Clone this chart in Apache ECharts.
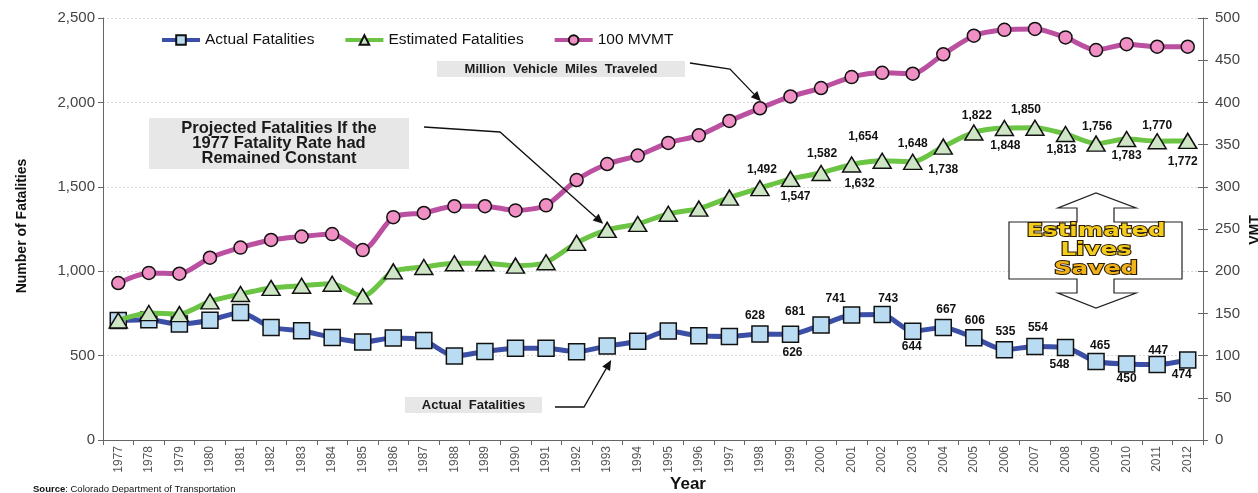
<!DOCTYPE html>
<html>
<head>
<meta charset="utf-8">
<title>Colorado Traffic Fatalities vs. Vehicle Miles Traveled</title>
<script src="https://cdn.jsdelivr.net/npm/echarts@6/dist/echarts.min.js"></script>
<style>
  html, body { margin: 0; padding: 0; background: #fff; }
  #chart { width: 1258px; height: 493px; }
</style>
</head>
<body>
<div id="chart"></div>
<script>
// Years on the category axis
const years = ['1977','1978','1979','1980','1981','1982','1983','1984','1985','1986','1987','1988',
  '1989','1990','1991','1992','1993','1994','1995','1996','1997','1998','1999','2000',
  '2001','2002','2003','2004','2005','2006','2007','2008','2009','2010','2011','2012'];

// Reported traffic fatalities
const actualFatalities = [708,712,687,709,756,667,647,607,580,604,590,
  497,524,544,544,523,557,585,645,617,613,
  628,626,681,741,743,644,667,606,535,554,548,465,450,447,474];

// Fatalities projected at the 1977 rate per 100 million vehicle miles
const estimatedFatalities = [708,752,746,821,865,901,914,926,851,999,1025,1047,1047,1033,1053,
  1168,1245,1280,1340,1371,1436,
  1492,1547,1582,1632,1654,1648,1738,1822,1848,1850,1813,1756,1783,1770,1772];

// Vehicle miles traveled, in units of 100 million (right axis)
const mvmt = [186,198,197,216,228,237,241,244,225,264,269,277,277,272,278,
  308,327,337,352,361,378,
  393,407,417,430,435,434,457,479,486,487,477,462,469,466,466];

const leftTicks = [0, 500, 1000, 1500, 2000, 2500];
const rightTicks = [0, 50, 100, 150, 200, 250, 300, 350, 400, 450, 500];

// Where the value labels sit relative to each labelled point (px)
const actualLabelOffsets = {
  '1998':[-5,-18],'1999':[2,18],'2000':[-26,-13],'2001':[-16,-16],'2002':[6,-16],
  '2003':[-1,15],'2004':[3,-18],'2005':[1,-17],'2006':[1,-18],'2007':[3,-19],
  '2008':[-6,17],'2009':[4,-16],'2010':[0,15],'2011':[1,-14],'2012':[-6,15]
};
const estimatedLabelOffsets = {
  '1998':[2,-18],'1999':[5,18],'2000':[1,-19],'2001':[8,19],'2002':[-19,-24],
  '2003':[0,-18],'2004':[0,23],'2005':[3,-17],'2006':[1,18],'2007':[-9,-18],
  '2008':[-4,16],'2009':[1,-17],'2010':[0,17],'2011':[0,-16],'2012':[-5,21]
};

const FONT = '"Liberation Sans", Arial, sans-serif';
const fmt = v => Number(v).toLocaleString('en-US');

function withLabels(values, offsets) {
  return values.map((v, i) => {
    const off = offsets[years[i]];
    if (!off) return { value: v, label: { show: false } };
    return { value: v, label: { show: true, position: 'inside', offset: off } };
  });
}

const valueLabel = {
  formatter: p => fmt(p.value),
  fontFamily: FONT, fontSize: 12, fontWeight: 'bold', color: '#111'
};

const chart = echarts.init(document.getElementById('chart'), null, { renderer: 'canvas' });

const option = {
  animation: false,
  backgroundColor: '#fff',
  textStyle: { fontFamily: FONT },
  grid: { left: 103, right: 55, top: 18, bottom: 53, containLabel: false },
  legend: {
    left: 155, top: 27,
    itemWidth: 38, itemHeight: 12, itemGap: 29,
    lineStyle: { width: 4 },
    textStyle: { fontFamily: FONT, fontSize: 15.5, color: '#111' },
    data: ['Actual Fatalities', 'Estimated Fatalities', '100 MVMT']
  },
  xAxis: {
    type: 'category',
    data: years,
    boundaryGap: true,
    axisLine: { lineStyle: { color: '#666', width: 1 } },
    axisTick: { show: true, interval: 0, length: 5, lineStyle: { color: '#666' } },
    axisLabel: { interval: 0, rotate: 90, fontSize: 12, color: '#555', margin: 6, fontFamily: FONT }
  },
  yAxis: [
    {
      type: 'value', position: 'left',
      min: leftTicks[0], max: leftTicks[leftTicks.length - 1], interval: leftTicks[1] - leftTicks[0],
      axisLine: { show: true, lineStyle: { color: '#666' } },
      axisTick: { show: true, length: 5, lineStyle: { color: '#666' } },
      axisLabel: { formatter: v => fmt(v), fontSize: 15, color: '#444', margin: 8, fontFamily: FONT },
      splitLine: { show: true, lineStyle: { color: '#d9d9d9', type: [2, 2], width: 1 } }
    },
    {
      type: 'value', position: 'right',
      min: rightTicks[0], max: rightTicks[rightTicks.length - 1], interval: rightTicks[1] - rightTicks[0],
      axisLine: { show: true, lineStyle: { color: '#666' } },
      axisTick: { show: true, length: 5, lineStyle: { color: '#666' } },
      axisLabel: { fontSize: 15, color: '#444', margin: 12, fontFamily: FONT },
      splitLine: { show: false }
    },
    {
      // inner half of the crossing tick marks on the right axis
      type: 'value', position: 'right',
      min: rightTicks[0], max: rightTicks[rightTicks.length - 1], interval: rightTicks[1] - rightTicks[0],
      axisLine: { show: false },
      axisTick: { show: true, inside: true, length: 5, lineStyle: { color: '#666' } },
      axisLabel: { show: false },
      splitLine: { show: false }
    }
  ],
  series: [
    {
      name: 'Actual Fatalities', type: 'line', yAxisIndex: 0,
      data: withLabels(actualFatalities, actualLabelOffsets),
      smooth: 0.25,
      symbol: 'rect', symbolSize: 16,
      lineStyle: { color: '#3c4fa6', width: 5 },
      itemStyle: { color: '#b9dcf2', borderColor: '#111', borderWidth: 1.5 },
      label: valueLabel,
      z: 3
    },
    {
      name: 'Estimated Fatalities', type: 'line', yAxisIndex: 0,
      data: withLabels(estimatedFatalities, estimatedLabelOffsets),
      smooth: 0.25,
      symbol: 'triangle', symbolSize: [18, 15],
      lineStyle: { color: '#6cc444', width: 5 },
      itemStyle: { color: '#cfe6c6', borderColor: '#111', borderWidth: 1.5 },
      label: valueLabel,
      z: 4
    },
    {
      name: '100 MVMT', type: 'line', yAxisIndex: 1,
      data: mvmt,
      smooth: 0.25,
      symbol: 'circle', symbolSize: 13,
      lineStyle: { color: '#bb4fa0', width: 5 },
      itemStyle: { color: '#f08fc3', borderColor: '#111', borderWidth: 1.5 },
      label: { show: false },
      z: 5
    }
  ]
};

chart.setOption(option);

// ---- annotations -------------------------------------------------------
function arrowElems(points) {
  const n = points.length;
  const tip = points[n - 1], prev = points[n - 2];
  const dx = tip[0] - prev[0], dy = tip[1] - prev[1];
  const len = Math.sqrt(dx * dx + dy * dy);
  const ux = dx / len, uy = dy / len;
  const hl = 10, hw = 4.5;
  const bx = tip[0] - ux * hl, by = tip[1] - uy * hl;
  const shaft = points.slice(0, n - 1).concat([[bx, by]]);
  return [
    { type: 'polyline', shape: { points: shaft }, style: { stroke: '#111', lineWidth: 1.3, fill: null }, z: 20 },
    { type: 'polygon', shape: { points: [tip, [bx - uy * hw, by + ux * hw], [bx + uy * hw, by - ux * hw]] },
      style: { fill: '#111' }, z: 20 }
  ];
}

function calloutBox(x, y, w, h, text, fontSize, lineHeight) {
  return [
    { type: 'rect', shape: { x: x, y: y, width: w, height: h }, style: { fill: '#e7e7e7' }, z: 15 },
    { type: 'text', x: x + w / 2, y: y + h / 2, z: 16,
      style: { text: text, fill: '#1a1a1a', font: 'bold ' + fontSize + 'px ' + FONT,
               align: 'center', verticalAlign: 'middle', lineHeight: lineHeight } }
  ];
}

const px = (seriesIndex, yearIdx, value) => chart.convertToPixel({ seriesIndex: seriesIndex }, [yearIdx, value]);
const idx = y => years.indexOf(y);

const mvmtPt = px(2, idx('1998'), mvmt[idx('1998')]);
const estPt = px(1, idx('1993'), estimatedFatalities[idx('1993')]);
const actPt = px(0, idx('1993'), actualFatalities[idx('1993')]);

const gfx = [];
gfx.push(...calloutBox(437, 61, 248, 16, 'Million  Vehicle  Miles  Traveled', 13, 14));
gfx.push(...arrowElems([[690, 63], [730, 69], [mvmtPt[0] + 1, mvmtPt[1] - 7]]));

gfx.push(...calloutBox(149, 118, 260, 51, 'Projected Fatalities If the\n1977 Fatality Rate had\nRemained Constant', 16.5, 15));
gfx.push(...arrowElems([[424, 127], [500, 132], [estPt[0] - 4, estPt[1] - 6]]));

gfx.push(...calloutBox(405, 397, 137, 16, 'Actual  Fatalities', 13, 14));
gfx.push(...arrowElems([[555, 407], [584, 407], [actPt[0] + 4, actPt[1] + 14]]));

// double-headed "Estimated Lives Saved" marker
gfx.push({
  type: 'polygon', z: 15,
  shape: { points: [
    [1009, 222], [1077, 222], [1077, 208], [1058, 208], [1096, 193], [1136, 208], [1114, 208], [1114, 222],
    [1182, 222], [1182, 279], [1114, 279], [1114, 293], [1136, 293], [1096, 308], [1058, 293], [1077, 293],
    [1077, 279], [1009, 279]
  ] },
  style: { fill: '#fff', stroke: '#222', lineWidth: 1.2 }
});
const savedText = ['Estimated', 'Lives', 'Saved'];
gfx.push({
  type: 'group', x: 1096, y: 250, scaleX: 1.36, scaleY: 1, z: 17,
  children: savedText.map((t, i) => ({
    type: 'text', x: 0, y: (i - 1) * 19, z: 17,
    style: {
      text: t, font: 'bold 18px "DejaVu Sans", sans-serif',
      fill: i === 2 ? '#f0b21a' : '#f4cc1c', stroke: '#2a1a00', lineWidth: 1.8,
      align: 'center', verticalAlign: 'middle',
      shadowColor: 'rgba(0,0,0,0.6)', shadowOffsetX: 2, shadowOffsetY: 2, shadowBlur: 2
    }
  }))
});

// axis titles and source line
gfx.push({ type: 'text', x: 22, y: 226, rotation: Math.PI / 2, z: 10,
  style: { text: 'Number of Fatalities', font: 'bold 14px ' + FONT, fill: '#111', align: 'center', verticalAlign: 'middle' } });
gfx.push({ type: 'text', x: 1255, y: 230, rotation: Math.PI / 2, z: 10,
  style: { text: 'VMT', font: 'bold 14px ' + FONT, fill: '#111', align: 'center', verticalAlign: 'middle' } });
gfx.push({ type: 'text', x: 688, y: 484, z: 10,
  style: { text: 'Year', font: 'bold 17px ' + FONT, fill: '#111', align: 'center', verticalAlign: 'middle' } });
gfx.push({ type: 'text', x: 33, y: 489, z: 10,
  style: { text: '{b|Source}: Colorado Department of Transportation', font: '9.5px ' + FONT, fill: '#111',
    align: 'left', verticalAlign: 'middle',
    rich: { b: { fontWeight: 'bold', fontSize: 9.5, fontFamily: FONT, fill: '#111' } } } });

chart.setOption({ graphic: { elements: gfx } });
</script>
</body>
</html>
